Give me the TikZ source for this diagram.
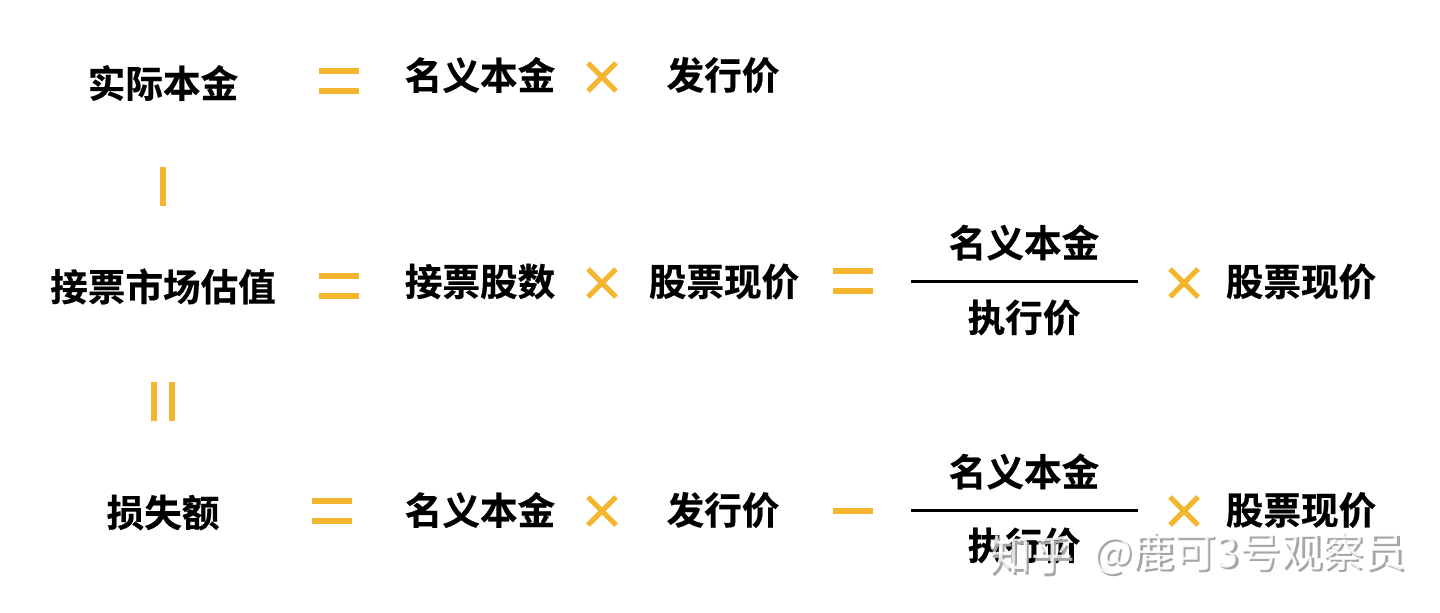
\documentclass[tikz,border=0pt]{standalone}
\usepackage{fontspec}
\setmainfont{Noto Sans CJK SC}[BoldFont={Noto Sans CJK SC Bold},BoldFeatures={FakeBold=0.5}]
\usepackage{tikz}
\definecolor{markyellow}{HTML}{F4B52F}
\tikzset{
  main node/.style={inner sep=0pt,font=\fontsize{18.8pt}{20pt}\bfseries,text=black},
  mark line/.style={draw=markyellow,line width=2.6pt},
  frac line/.style={draw=black,line width=1.5pt},
  water node/.style={inner sep=0pt,font=\fontsize{20.8pt}{22pt}\selectfont}
}
\newcommand{\eqmark}[1]{%
  \draw[mark line] ($(#1)+(-20,10)$) -- ($(#1)+(20,10)$);
  \draw[mark line] ($(#1)+(-20,-10)$) -- ($(#1)+(20,-10)$);}
\newcommand{\crossmark}[1]{%
  \draw[mark line] ($(#1)+(-14,14)$) -- ($(#1)+(14,-14)$);
  \draw[mark line] ($(#1)+(-14,-14)$) -- ($(#1)+(14,14)$);}
\usetikzlibrary{calc}
\begin{document}
\begin{tikzpicture}[x=0.5pt,y=-0.5pt]
  \useasboundingbox (0,0) rectangle (1440,612);

  % top row
  \node[main node] (actual) at (163,83) {实际本金};
  \node[main node] (nominal1) at (480,75) {名义本金};
  \node[main node] (issue1) at (723,75) {发行价};

  % middle row
  \node[main node] (market) at (163,286.5) {接票市场估值};
  \node[main node] (shares) at (480,281.5) {接票股数};
  \node[main node] (price1) at (724,281.5) {股票现价};
  \node[main node] (nominal2) at (1024,242.5) {名义本金};
  \node[main node] (strike1) at (1024,317.5) {执行价};
  \node[main node] (price2) at (1301,281.5) {股票现价};

  % bottom row
  \node[main node] (loss) at (163,512.5) {损失额};
  \node[main node] (nominal3) at (480,510) {名义本金};
  \node[main node] (issue2) at (723,510) {发行价};
  \node[main node] (nominal4) at (1024,471.5) {名义本金};
  \node[main node] (strike2) at (1024,545.5) {执行价};
  \node[main node] (price3) at (1301,510) {股票现价};

  % yellow signs
  \coordinate (eq1) at (339,81);
  \coordinate (eq2) at (339,286);
  \coordinate (eq3) at (853,281);
  \coordinate (eq4) at (332,511);
  \eqmark{eq1}
  \eqmark{eq2}
  \eqmark{eq3}
  \draw[mark line,line width=3pt] ($(eq4)+(-20,-10)$) -- ($(eq4)+(20,-10)$);
  \draw[mark line,line width=3pt] ($(eq4)+(-20,10)$) -- ($(eq4)+(20,10)$);
  \coordinate (x1) at (602,77);
  \coordinate (x2) at (602,283);
  \coordinate (x3) at (1184,283);
  \coordinate (x4) at (602,511);
  \coordinate (x5) at (1184,511);
  \crossmark{x1}
  \crossmark{x2}
  \crossmark{x3}
  \crossmark{x4}
  \crossmark{x5}
  \draw[mark line] (833,511) -- (873,511);
  \draw[mark line] (163,167) -- (163,206);
  \draw[mark line] (154,382) -- (154,421);
  \draw[mark line] (172,382) -- (172,421);

  % fraction rules
  \draw[frac line] (911,281) -- (1138,281);
  \draw[frac line] (911,510) -- (1138,510);

  % watermark
  \node[water node,text=black!35,anchor=west] (shadow1) at (991.5,557.5) {知乎};
  \node[water node,text=black!35,anchor=west] (shadow2) at (1095.5,555.5) {@鹿可3号观察员};
  \node[water node,text=white,opacity=.85,anchor=west] (mark1) at (989,555) {知乎};
  \node[water node,text=white,opacity=.85,anchor=west] (mark2) at (1093,553) {@鹿可3号观察员};
\end{tikzpicture}
\end{document}
